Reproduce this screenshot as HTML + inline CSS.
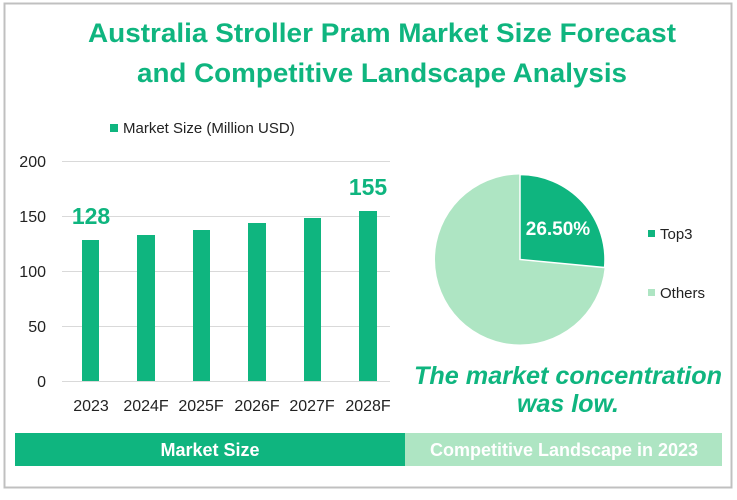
<!DOCTYPE html>
<html><head><meta charset="utf-8"><style>
body{margin:0;width:737px;height:495px;background:#fff;overflow:hidden;font-family:"Liberation Sans","DejaVu Sans",sans-serif;}
svg text{font-family:"Liberation Sans","DejaVu Sans",sans-serif;}
</style></head><body>
<svg width="737" height="495" viewBox="0 0 737 495" xmlns="http://www.w3.org/2000/svg">
<rect x="4.5" y="3.5" width="727" height="484" fill="#fff" stroke="#c0c0c0" stroke-width="2"/>
<text x="382" y="42" text-anchor="middle" font-size="27" font-weight="bold" fill="#0fb57f" textLength="588" lengthAdjust="spacingAndGlyphs">Australia Stroller Pram Market Size Forecast</text>
<text x="382" y="82" text-anchor="middle" font-size="27" font-weight="bold" fill="#0fb57f" textLength="490" lengthAdjust="spacingAndGlyphs">and Competitive Landscape Analysis</text>
<rect x="110" y="124" width="8" height="8" fill="#0fb57f"/>
<text x="123" y="133" font-size="15" fill="#222">Market Size (Million USD)</text>
<g stroke="#d9d9d9" stroke-width="1">
<line x1="62" y1="161.5" x2="390" y2="161.5"/><line x1="62" y1="216.5" x2="390" y2="216.5"/>
<line x1="62" y1="271.5" x2="390" y2="271.5"/><line x1="62" y1="326.5" x2="390" y2="326.5"/>
<line x1="62" y1="381.5" x2="390" y2="381.5"/></g>
<g font-size="16" fill="#222" text-anchor="end">
<text x="46" y="167">200</text><text x="46" y="222">150</text><text x="46" y="277">100</text><text x="46" y="332">50</text><text x="46" y="387">0</text></g>
<g fill="#0fb57f">
<rect x="82" y="240" width="17" height="141"/>
<rect x="137" y="235" width="18" height="146"/>
<rect x="193" y="230" width="17" height="151"/>
<rect x="248" y="223" width="18" height="158"/>
<rect x="304" y="218" width="17" height="163"/>
<rect x="359" y="211" width="18" height="170"/></g>
<g font-size="16" fill="#222" text-anchor="middle">
<text x="91" y="411">2023</text><text x="146" y="411">2024F</text><text x="201" y="411">2025F</text>
<text x="257" y="411">2026F</text><text x="312" y="411">2027F</text><text x="368" y="411">2028F</text></g>
<text x="91" y="224" text-anchor="middle" font-size="23" font-weight="bold" fill="#0fb57f">128</text>
<text x="368" y="195" text-anchor="middle" font-size="23" font-weight="bold" fill="#0fb57f">155</text>
<circle cx="520" cy="259.5" r="85" fill="#aee5c3"/>
<path d="M520,259.5 L520,174.5 A85,85 0 0 1 604.6,267.5 Z" fill="#0fb57f" stroke="#fff" stroke-width="1.5"/>
<text x="558" y="235" text-anchor="middle" font-size="19" font-weight="bold" fill="#fff">26.50%</text>
<rect x="648" y="230" width="7" height="7" fill="#0fb57f"/>
<text x="660" y="239" font-size="15" fill="#222">Top3</text>
<rect x="648" y="289" width="7" height="7" fill="#aee5c3"/>
<text x="660" y="298" font-size="15" fill="#222">Others</text>
<text x="568" y="384" text-anchor="middle" font-size="25" font-weight="bold" font-style="italic" fill="#0fb57f" textLength="308" lengthAdjust="spacingAndGlyphs">The market concentration</text>
<text x="568" y="412" text-anchor="middle" font-size="25" font-weight="bold" font-style="italic" fill="#0fb57f">was low.</text>
<rect x="15" y="433" width="390" height="33" fill="#0fb57f"/>
<rect x="405" y="433" width="317" height="33" fill="#aee5c3"/>
<text x="210" y="456" text-anchor="middle" font-size="18" font-weight="bold" fill="#fff">Market Size</text>
<text x="564" y="456" text-anchor="middle" font-size="18" font-weight="bold" fill="#fff">Competitive Landscape in 2023</text>
</svg>
</body></html>
